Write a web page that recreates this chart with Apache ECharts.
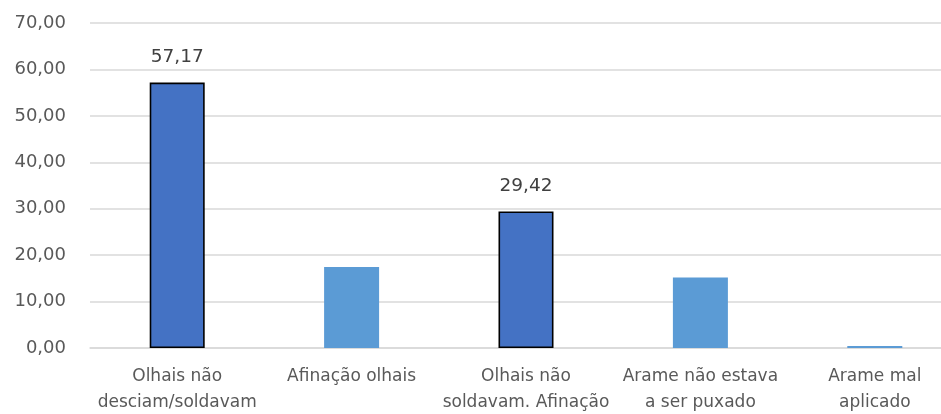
<!DOCTYPE html>
<html>
<head>
<meta charset="utf-8">
<script src="https://cdn.jsdelivr.net/npm/echarts@6/dist/echarts.min.js"></script>
<style>
  html, body { margin: 0; padding: 0; background: #fff; }
  #chart { width: 941px; height: 414px; }
</style>
</head>
<body>
<div id="chart"></div>
<script>
const categories = [
  "Olhais não\ndesciam/soldavam",
  "Afinação olhais",
  "Olhais não\nsoldavam. Afinação",
  "Arame não estava\na ser puxado",
  "Arame mal\naplicado"
];
const values = [57.17, 17.45, 29.42, 15.2, 0.45];
// bars that are highlighted (dark, outlined, labelled)
const highlighted = [true, false, true, false, false];

const fmt = (v) => v.toFixed(2).replace(".", ",");
const textColor = "#595959";
const fontFamily = "'DejaVu Sans', sans-serif";

const chart = echarts.init(document.getElementById("chart"));
chart.setOption({
  animation: false,
  backgroundColor: "#fff",
  grid: { left: 90, top: 23, width: 872, height: 325, outerBoundsMode: "none" },
  xAxis: {
    type: "category",
    data: categories,
    axisLine: { show: true, lineStyle: { color: "#d9d9d9", width: 1.5 } },
    axisTick: { show: false },
    axisLabel: {
      color: textColor,
      fontFamily,
      fontSize: 17,
      lineHeight: 26,
      margin: 16,
      interval: 0
    }
  },
  yAxis: {
    type: "value",
    min: 0,
    max: 70,
    interval: 10,
    axisLine: { show: false },
    axisTick: { show: false },
    splitLine: { lineStyle: { color: "#d9d9d9", width: 1.5 } },
    axisLabel: {
      color: textColor,
      fontFamily,
      fontSize: 18,
      margin: 24,
      formatter: (v) => fmt(v)
    }
  },
  series: [{
    type: "bar",
    barWidth: 55,
    data: values.map((v, i) => ({
      value: v,
      itemStyle: highlighted[i]
        ? { color: "#4472c4", borderColor: "#000", borderWidth: 1.6 }
        : { color: "#5b9bd5" },
      label: {
        show: highlighted[i],
        position: "top",
        distance: 16,
        color: "#404040",
        fontFamily,
        fontSize: 18.5,
        formatter: (p) => fmt(p.value)
      }
    }))
  }]
});
</script>
</body>
</html>
